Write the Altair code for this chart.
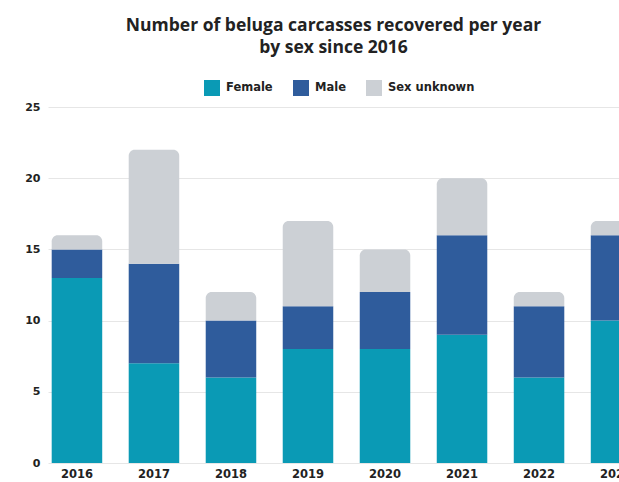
import altair as alt
import pandas as pd

years = ["2016", "2017", "2018", "2019", "2020", "2021", "2022", "2023"]
female = [13, 7, 6, 8, 8, 9, 6, 10]
male = [2, 7, 4, 3, 4, 7, 5, 6]
unknown = [1, 8, 2, 6, 3, 4, 1, 1]

series = ["Female", "Male", "Sex unknown"]
colors = ["#0a9ab5", "#2f5c9c", "#ccd0d5"]

rows = []
for i, yr in enumerate(years):
    lo = 0
    for s, vals in zip(series, [female, male, unknown]):
        rows.append({"year": yr, "series": s, "y0": lo, "y1": lo + vals[i]})
        lo += vals[i]
df = pd.DataFrame(rows)

TFONT = "Open Sans"
LFONT = "DejaVu Sans"

x = alt.X("year:N", sort=years, title=None,
          scale=alt.Scale(domain=years, range=[0, 597], paddingInner=0.344, paddingOuter=0.048),
          axis=alt.Axis(labelAngle=0, ticks=False, domain=False, labelPadding=5,
                        labelFont=LFONT, labelFontWeight="bold", labelFontSize=11.5,
                        labelColor="#222222", labelOverlap=False, labelBound=False))
y = alt.Y("y0:Q", title=None,
          scale=alt.Scale(domain=[0, 25], nice=False),
          axis=alt.Axis(values=[0, 5, 10, 15, 20, 25], ticks=False, domain=False,
                        labelPadding=8, labelFont=LFONT, labelFontWeight="bold",
                        labelFontSize=11, labelColor="#222222",
                        grid=True, gridColor="#e6e6e6", gridWidth=1))
color = alt.Color("series:N", scale=alt.Scale(domain=series, range=colors),
                  legend=alt.Legend(title=None, orient="none", direction="horizontal",
                                    legendX=156, legendY=-27, symbolType="square",
                                    symbolSize=256, symbolStrokeWidth=0, symbolOpacity=1,
                                    labelFont=LFONT, labelFontWeight="bold", labelFontSize=11.5,
                                    labelColor="#222222", columnPadding=20, labelOffset=6))

base = alt.Chart(df)
lower = base.transform_filter(alt.datum.series != "Sex unknown").mark_bar(clip=True).encode(
    x=x, y=y, y2="y1:Q", color=color)
upper = base.transform_filter(alt.datum.series == "Sex unknown").mark_bar(
    clip=True, cornerRadiusTopLeft=6, cornerRadiusTopRight=6).encode(
    x=x, y=y, y2="y1:Q", color=color)

chart = alt.layer(lower, upper).properties(
    width=571, height=356,
    autosize=alt.AutoSizeParams(type="none"),
    padding={"left": 48, "top": 107, "right": 0, "bottom": 19},
    title=alt.TitleParams(
        text=["Number of beluga carcasses recovered per year", "by sex since 2016"],
        font=TFONT, fontSize=17.5, fontWeight="bold", color="#222222",
        anchor="middle", offset=24, lineHeight=22),
).configure_view(stroke=None)

chart.save("out.html", embed_options={"renderer": "svg", "actions": False})
